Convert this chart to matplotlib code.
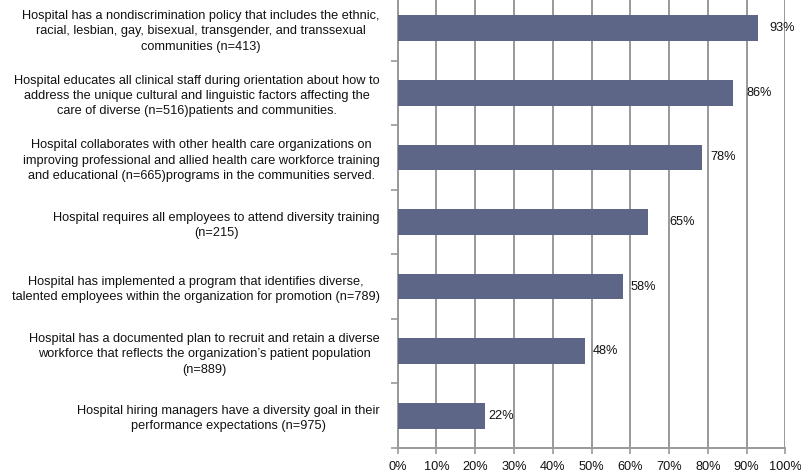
import matplotlib
matplotlib.use("Agg")
import matplotlib.pyplot as plt
from matplotlib.ticker import FixedLocator, PercentFormatter

categories = [
    "Hospital has a nondiscrimination policy that includes the ethnic,\nracial, lesbian, gay, bisexual, transgender, and transsexual\ncommunities (n=413)",
    "Hospital educates all clinical staff during orientation about how to\naddress the unique cultural and linguistic factors affecting the\ncare of diverse (n=516)patients and communities.",
    "Hospital collaborates with other health care organizations on\nimproving professional and allied health care workforce training\nand educational (n=665)programs in the communities served.",
    "Hospital requires all employees to attend diversity training\n(n=215)",
    "Hospital has implemented a program that identifies diverse,\ntalented employees within the organization for promotion (n=789)",
    "Hospital has a documented plan to recruit and retain a diverse\nworkforce that reflects the organization\u2019s patient population\n(n=889)",
    "Hospital hiring managers have a diversity goal in their\nperformance expectations (n=975)",
]
values = [0.929, 0.864, 0.785, 0.645, 0.581, 0.483, 0.225]
value_labels = ["93%", "86%", "78%", "65%", "58%", "48%", "22%"]
xticks = [0.0, 0.1, 0.2, 0.3, 0.4, 0.5, 0.6, 0.7, 0.8, 0.9, 1.0]

# styling
label_pad_px = [12, 14, 8.5, 22, 8, 8, 3]
bar_color = "#5E6687"
grid_color = "#999999"
fs = 9.2
plt.rcParams["font.family"] = ["Liberation Sans", "DejaVu Sans"]

fig = plt.figure(figsize=(8.01, 4.74), dpi=100)
ax = fig.add_axes([397.7 / 801, 26 / 474, (785.3 - 397.7) / 801, 452 / 474])

ypos = list(range(len(categories)))
ax.barh(ypos, values, height=0.4, color=bar_color, zorder=3)

ax.set_xlim(0, 1.0)
ax.set_ylim(len(categories) - 0.5, -0.5)

ax.xaxis.set_major_locator(FixedLocator(xticks))
ax.xaxis.set_major_formatter(PercentFormatter(1.0, decimals=0))
ax.grid(axis="x", color=grid_color, linewidth=1.4, zorder=0)
ax.set_axisbelow(True)

ax.set_yticks(ypos)
ax.set_yticklabels(categories, fontsize=fs, linespacing=1.36,
                   multialignment="center", color="#111111")
ax.yaxis.set_minor_locator(FixedLocator([i + 0.5 for i in range(-1, len(categories))]))
ax.tick_params(axis="y", which="major", length=0, pad=13)
ax.tick_params(axis="y", which="minor", length=5, color=grid_color, width=1.2, direction="out")
ax.tick_params(axis="x", which="major", length=4, color=grid_color, width=1.2,
               labelsize=fs, pad=5, direction="out", labelcolor="#111111")

for s in ["top", "right"]:
    ax.spines[s].set_visible(False)
for s in ["left", "bottom"]:
    ax.spines[s].set_color(grid_color)
    ax.spines[s].set_linewidth(1.4)

for y, v, lab, pad in zip(ypos, values, value_labels, label_pad_px):
    ax.annotate(lab, (v, y), xytext=(pad * 72 / 100, 0), textcoords="offset points",
                ha="left", va="center", fontsize=fs, color="#111111")

fig.savefig("out.png", dpi=100)
